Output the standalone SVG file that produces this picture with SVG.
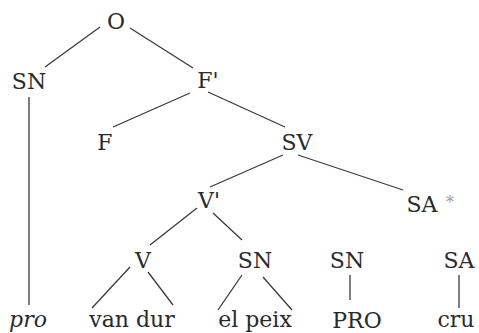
<svg xmlns="http://www.w3.org/2000/svg" width="479" height="333" viewBox="0 0 479 333">
<style>
text{font-family:'DejaVu Serif','Liberation Serif',serif;font-size:22px;fill:#2a2a2a;text-anchor:middle}
.i{font-style:italic}
.sup{font-size:16px;fill:#999}
#edges line{stroke:#3a3a3a;stroke-width:1.3}
</style>
<rect width="479" height="333" fill="#fff"/>
<g id="edges">
<line x1="100" y1="27" x2="45" y2="67"/>
<line x1="130" y1="28" x2="193" y2="68"/>
<line x1="190" y1="93" x2="113" y2="127"/>
<line x1="208" y1="92" x2="285" y2="127"/>
<line x1="29" y1="97" x2="29" y2="305"/>
<line x1="283" y1="155" x2="210" y2="187"/>
<line x1="298" y1="155" x2="403" y2="190"/>
<line x1="197" y1="208" x2="150" y2="245"/>
<line x1="213" y1="213" x2="242" y2="240"/>
<line x1="130" y1="267" x2="92" y2="308"/>
<line x1="148" y1="272" x2="173" y2="305"/>
<line x1="242" y1="275" x2="218" y2="310"/>
<line x1="263" y1="277" x2="292" y2="310"/>
<line x1="350" y1="275" x2="350" y2="300"/>
<line x1="459" y1="275" x2="459" y2="308"/>
</g>
<g id="n-O"><text x="116" y="29">O</text></g>
<g id="n-SN1"><text x="29" y="89">SN</text></g>
<g id="n-Fbar"><text x="208" y="88">F'</text></g>
<g id="n-F"><text x="105" y="150">F</text></g>
<g id="n-SV"><text x="297" y="150">SV</text></g>
<g id="n-Vbar"><text x="209" y="208">V'</text></g>
<g id="n-SAstar"><text x="422" y="212">SA</text><text class="sup" x="450" y="208">*</text></g>
<g id="n-V"><text x="143" y="268">V</text></g>
<g id="n-SN2"><text x="255" y="268">SN</text></g>
<g id="n-SN3"><text x="347" y="268">SN</text></g>
<g id="n-SA"><text x="459" y="268">SA</text></g>
<g id="n-pro"><text class="i" x="28" y="327">pro</text></g>
<g id="n-vandur"><text x="132" y="327">van dur</text></g>
<g id="n-elpeix"><text x="255" y="327">el peix</text></g>
<g id="n-PRO"><text x="357" y="328">PRO</text></g>
<g id="n-cru"><text x="456" y="327">cru</text></g>
</svg>
